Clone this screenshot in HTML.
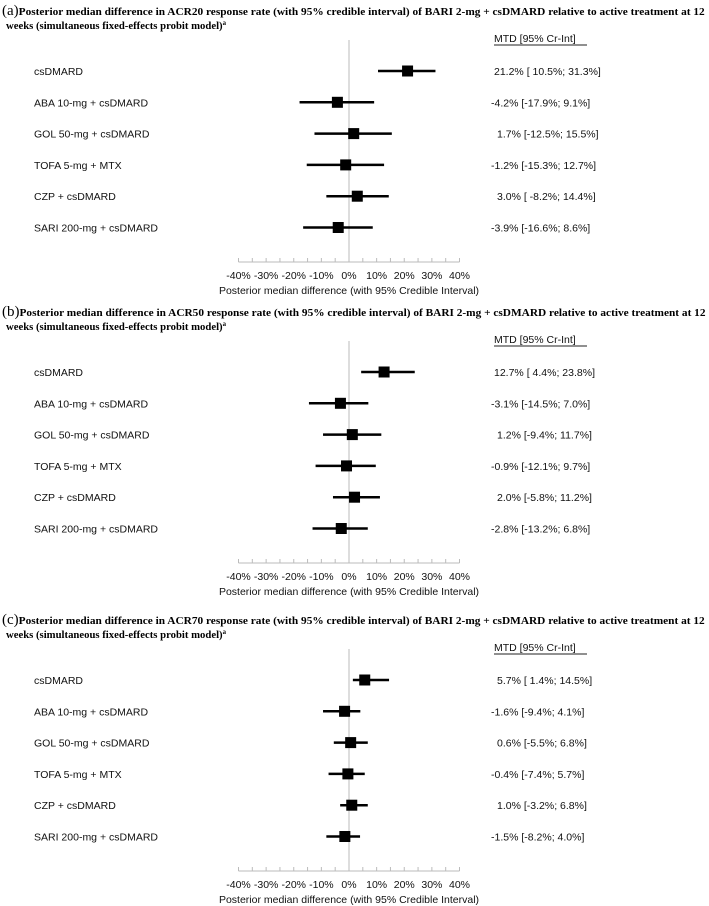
<!DOCTYPE html>
<html><head><meta charset="utf-8"><style>
html,body{margin:0;padding:0;background:#fff;}
svg{display:block;}
.t{font-family:"Liberation Serif",serif;font-weight:bold;font-size:11px;}
.s{font-family:"Liberation Sans",sans-serif;font-size:10.5px;fill:#111;}
</style></head><body>
<svg id="c" width="709" height="906" xmlns="http://www.w3.org/2000/svg"></svg>
<script>
const treatments = ["csDMARD","ABA 10-mg + csDMARD","GOL 50-mg + csDMARD","TOFA 5-mg + MTX","CZP + csDMARD","SARI 200-mg + csDMARD"];
const panelLetters = ["a","b","c"];
const panelEndpoints = ["ACR20","ACR50","ACR70"];
const medA = [21.2,-4.2,1.7,-1.2,3.0,-3.9];
const lowA = [10.5,-17.9,-12.5,-15.3,-8.2,-16.6];
const highA = [31.3,9.1,15.5,12.7,14.4,8.6];
const medB = [12.7,-3.1,1.2,-0.9,2.0,-2.8];
const lowB = [4.4,-14.5,-9.4,-12.1,-5.8,-13.2];
const highB = [23.8,7.0,11.7,9.7,11.2,6.8];
const medC = [5.7,-1.6,0.6,-0.4,1.0,-1.5];
const lowC = [1.4,-9.4,-5.5,-7.4,-3.2,-8.2];
const highC = [14.5,4.1,6.8,5.7,6.8,4.0];
const labelsA = ["21.2% [ 10.5%; 31.3%]","-4.2% [-17.9%;  9.1%]","1.7% [-12.5%; 15.5%]","-1.2% [-15.3%; 12.7%]","3.0% [ -8.2%; 14.4%]","-3.9% [-16.6%;  8.6%]"];
const labelsB = ["12.7% [ 4.4%; 23.8%]","-3.1% [-14.5%; 7.0%]","1.2% [-9.4%; 11.7%]","-0.9% [-12.1%; 9.7%]","2.0% [-5.8%; 11.2%]","-2.8% [-13.2%; 6.8%]"];
const labelsC = ["5.7% [ 1.4%; 14.5%]","-1.6% [-9.4%; 4.1%]","0.6% [-5.5%; 6.8%]","-0.4% [-7.4%; 5.7%]","1.0% [-3.2%; 6.8%]","-1.5% [-8.2%; 4.0%]"];
const tickValues = [-40,-30,-20,-10,0,10,20,30,40];
const tickLabels = ["-40%","-30%","-20%","-10%","0%","10%","20%","30%","40%"];

const NS="http://www.w3.org/2000/svg";
const svg=document.getElementById('c');
function mk(tag,attrs,parent){const e=document.createElementNS(NS,tag);for(const k in attrs)e.setAttribute(k,attrs[k]);(parent||svg).appendChild(e);return e;}
const xS=v=>349+v*(221/80);
const panels=[[medA,lowA,highA,labelsA],[medB,lowB,highB,labelsB],[medC,lowC,highC,labelsC]];
const offsets=[0,301,609];
panels.forEach((p,pi)=>{
  const oy=offsets[pi];
  const g=mk('g',{});
  
  
  const t1=mk('text',{x:2,y:oy+15,class:'t'},g);
  
  
  const l=mk('tspan',{'font-size':'15px','font-weight':'normal'},t1);l.textContent='('+panelLetters[pi]+')';
  const r=mk('tspan',{textLength:'686',lengthAdjust:'spacingAndGlyphs'},t1);
  r.textContent='Posterior median difference in '+panelEndpoints[pi]+' response rate (with 95% credible interval) of BARI 2-mg + csDMARD relative to active treatment at 12';
  const t2=mk('text',{x:6,y:oy+29,class:'t',textLength:'220',lengthAdjust:'spacingAndGlyphs'},g);
  t2.textContent='weeks (simultaneous fixed-effects probit model)';
  const sup=mk('tspan',{'font-size':'7px',dy:'-4'},t2);sup.textContent='a';
  
  
  const hd=mk('text',{x:494,y:oy+42,class:'s'},g);hd.textContent='MTD    [95% Cr-Int]';
  
  
  mk('line',{x1:494,x2:587,y1:oy+45,y2:oy+45,stroke:'#222','stroke-width':1},g);
  // zero line
  const z=mk('line',{x1:xS(0),x2:xS(0),y1:oy+40,y2:oy+262,stroke:'#bbb','stroke-width':1},g);
  
  
  // axis
  const ax=mk('line',{x1:xS(-40),x2:xS(40),y1:oy+262,y2:oy+262,stroke:'#bbb','stroke-width':1},g);
  
  
  for(let v=-40;v<=40;v+=5){mk('line',{x1:xS(v),x2:xS(v),y1:oy+258,y2:oy+262,stroke:'#bbb','stroke-width':1},g);}
  tickValues.forEach((v,i)=>{const tl=mk('text',{x:xS(v),y:oy+279,class:'s','text-anchor':'middle','font-size':'9.5px'},g);tl.textContent=tickLabels[i];
    
    });
  const at=mk('text',{x:xS(0),y:oy+294,class:'s','text-anchor':'middle'},g);at.textContent='Posterior median difference (with 95% Credible Interval)';
  
  
  treatments.forEach((tr,i)=>{
    const y=oy+71+i*31.3;
    const lb=mk('text',{x:34,y:y+4,class:'s'},g);lb.textContent=tr;
    
    
    const ci=mk('line',{x1:xS(p[1][i]),x2:xS(p[2][i]),y1:y,y2:y,stroke:'#000','stroke-width':2.5},g);
    
    
    const bx=mk('rect',{x:xS(p[0][i])-5.5,y:y-5.5,width:11,height:11,fill:'#000'},g);
    
    
    const vt=mk('text',{x:p[0][i]<0?491:(p[0][i]>=10?494:497),y:y+4,class:'s'},g);vt.textContent=p[3][i];
    
    
  });
});
</script>
</body></html>
